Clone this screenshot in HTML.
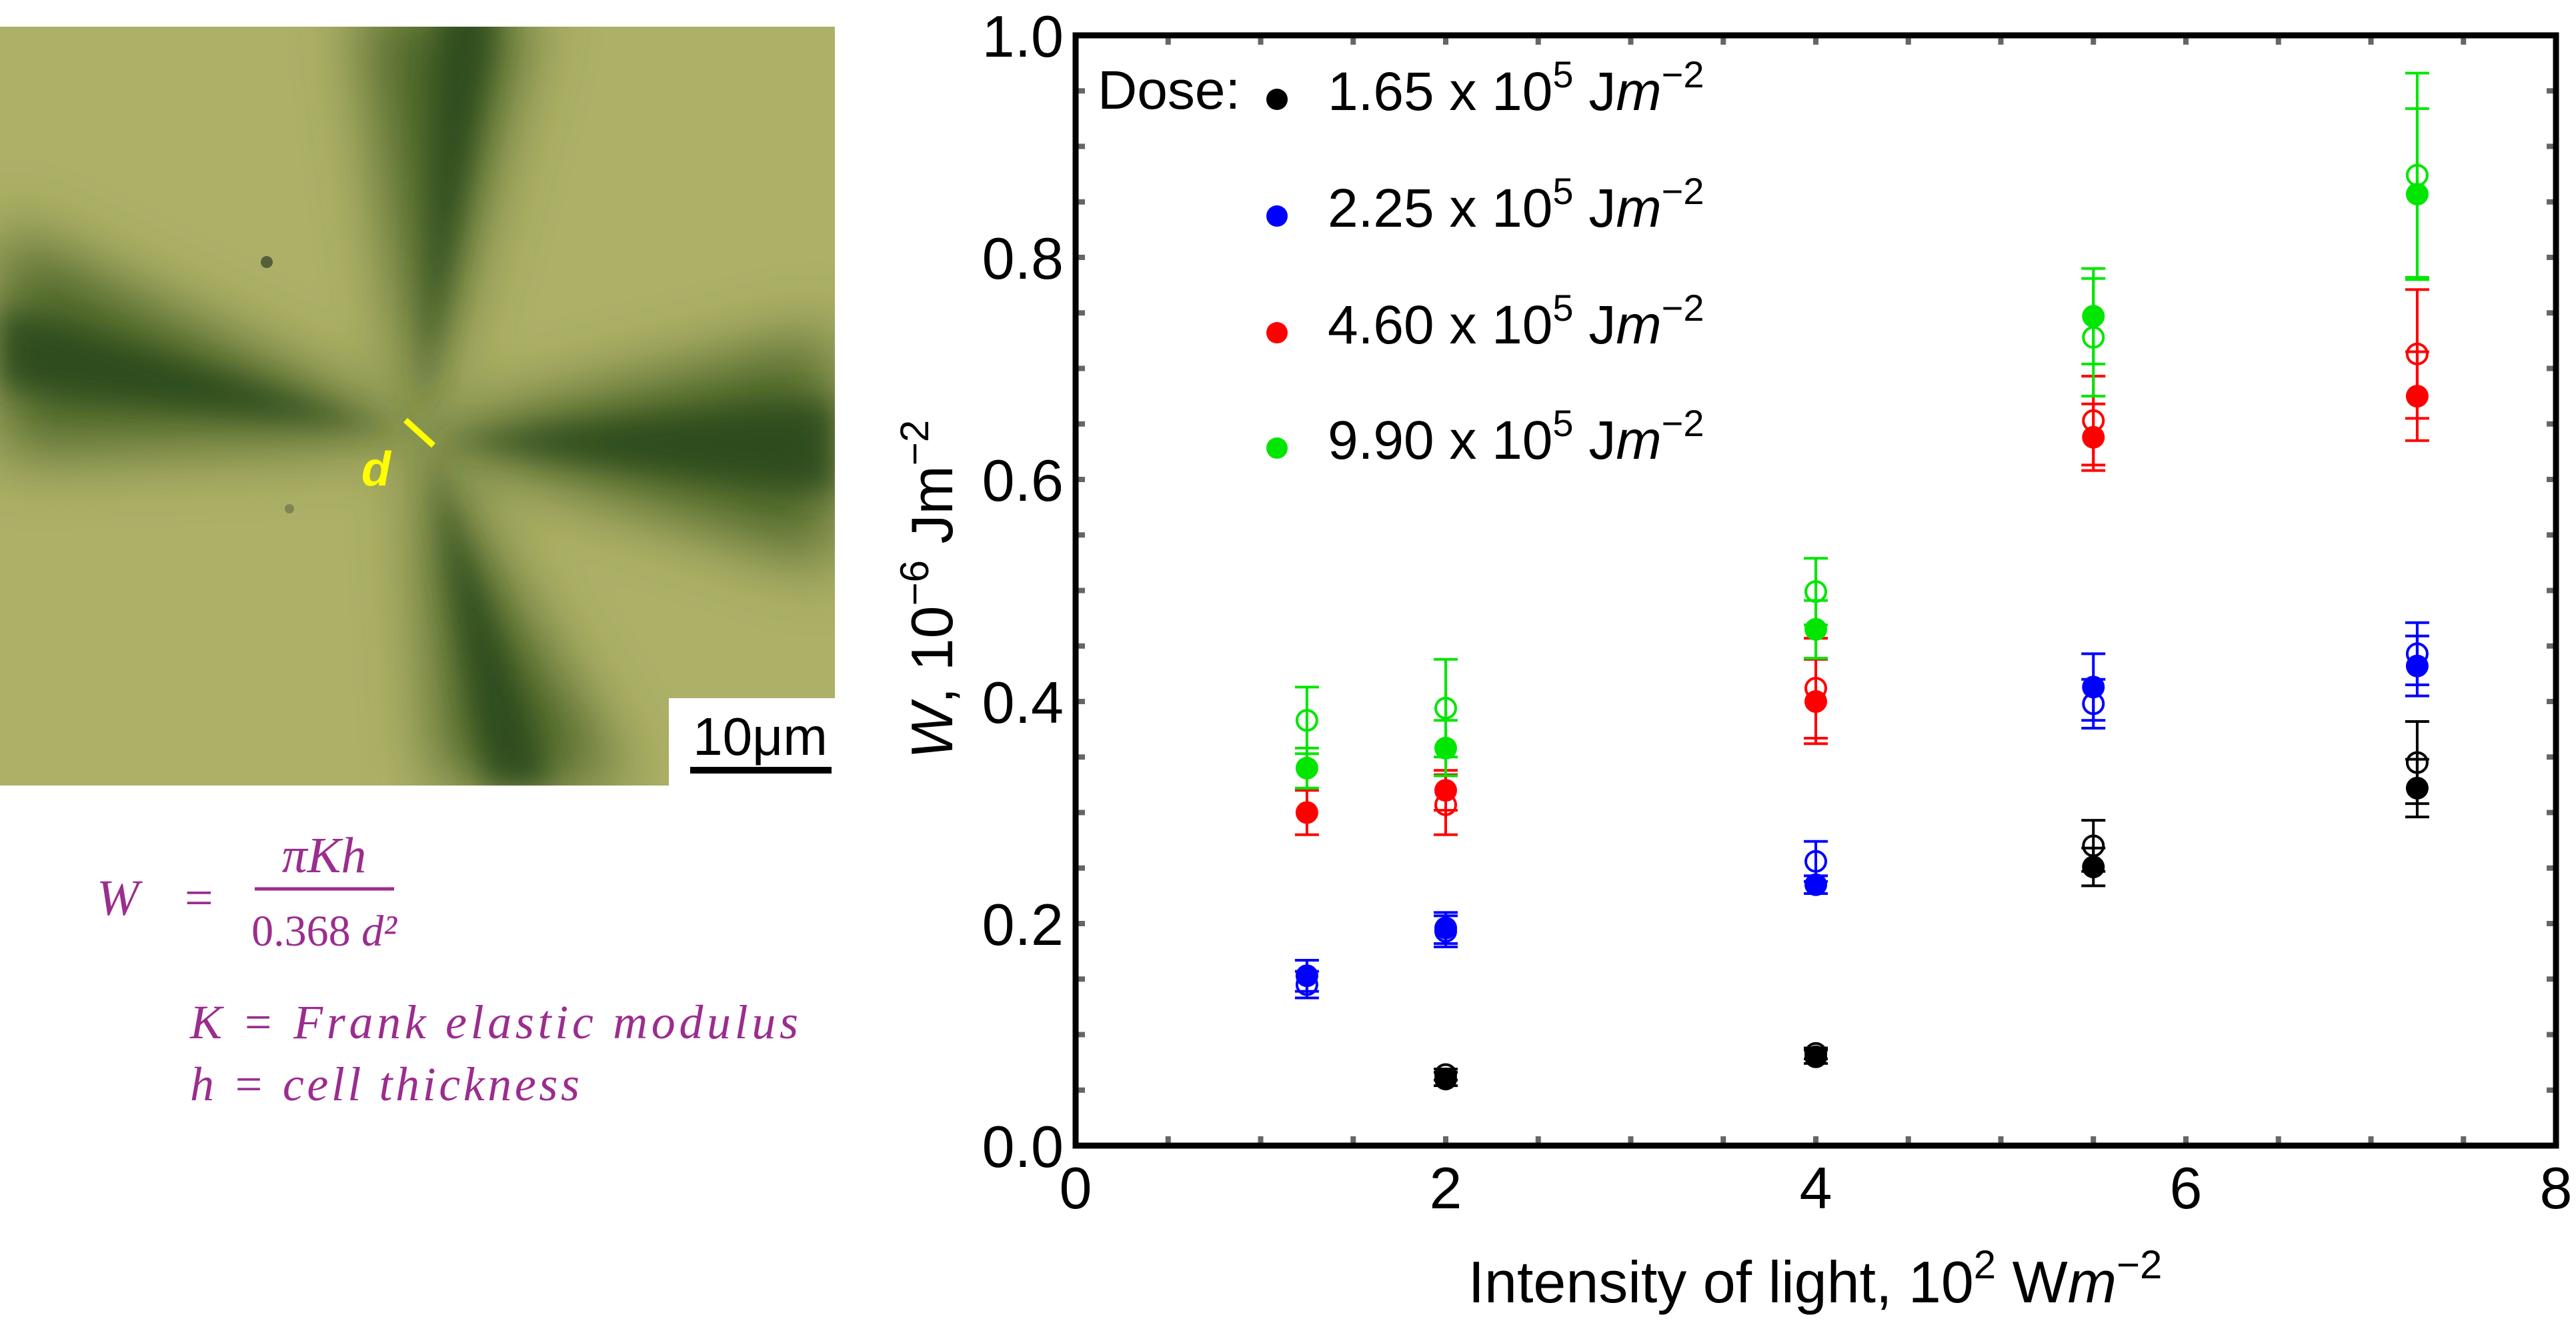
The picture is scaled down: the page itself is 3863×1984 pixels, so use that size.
<!DOCTYPE html>
<html><head><meta charset="utf-8"><style>
html,body{margin:0;padding:0;background:#fff;}
svg{display:block;}
text{font-family:"Liberation Sans",sans-serif;}
.math{font-family:"Liberation Serif",serif;font-style:italic;fill:#9b2d8e;}
</style></head><body>
<svg id="fig" width="3863" height="1984" viewBox="0 0 3863 1984" xmlns="http://www.w3.org/2000/svg">
<defs>
<filter id="blur" x="-20%" y="-20%" width="140%" height="140%"><feGaussianBlur stdDeviation="50"/></filter>
<filter id="blur2" x="-20%" y="-20%" width="140%" height="140%"><feGaussianBlur stdDeviation="22"/></filter>
<clipPath id="photoClip"><rect x="0" y="40" width="1252" height="1138"/></clipPath>
</defs>
<g clip-path="url(#photoClip)">
<rect x="0" y="40" width="1252" height="1138" fill="#adb067"/>
<g filter="url(#blur)" fill="#4a6326">
<polygon points="628,653 540,0 800,0"/>
<polygon points="628,653 660,1178 940,1178"/>
<polygon points="628,653 0,340 0,680"/>
<polygon points="628,653 1252,500 1252,850"/>
</g>
<g filter="url(#blur2)" fill="#2c4a1a" opacity="0.9">
<polygon points="628,653 660,0 750,0"/>
<polygon points="640,660 730,1178 830,1178"/>
<polygon points="620,650 0,460 0,580"/>
<polygon points="640,660 1252,600 1252,740"/>
</g>
<circle cx="400" cy="393" r="9" fill="#55603a"/>
<circle cx="434" cy="763" r="7" fill="#7f8452"/>
<line x1="608" y1="630" x2="650" y2="668" stroke="#ffff00" stroke-width="9"/>
<text x="542" y="728" font-family="Liberation Serif,serif" font-style="italic" font-weight="bold" font-size="72" fill="#ffff00">d</text>
<rect x="1003" y="1047" width="249" height="131" fill="#fff"/>
<text x="1140" y="1132" text-anchor="middle" font-family="Liberation Serif,serif" font-size="80" fill="#000">10μm</text>
<rect x="1035" y="1150" width="212" height="10" fill="#000"/>
</g>
<g>
<text class="math" x="145" y="1372" font-size="76">W</text>
<text class="math" x="272" y="1372" font-size="76" font-style="normal">=</text>
<text class="math" x="486" y="1308" font-size="76" text-anchor="middle">πKh</text>
<line x1="382" y1="1333" x2="591" y2="1333" stroke="#9b2d8e" stroke-width="5"/>
<text class="math" x="486" y="1418" font-size="66" text-anchor="middle"><tspan font-style="normal">0.368 </tspan>d²</text>
</g>
<text class="math" x="285" y="1557" font-size="72" textLength="912" lengthAdjust="spacing">K = Frank elastic  modulus</text>
<text class="math" x="285" y="1650" font-size="72" textLength="584" lengthAdjust="spacing">h = cell thickness</text>
<g id="chart"></g>
</svg>
<script>
const xTickVals = [0, 2, 4, 6, 8];
const yTickVals = [0.0, 0.2, 0.4, 0.6, 0.8, 1.0];
const yTickLabels = ["0.0", "0.2", "0.4", "0.6", "0.8", "1.0"];
const intensities = [1.25, 2, 4, 5.5, 7.25];
const blackFilled = [null, 0.060, 0.080, 0.251, 0.322];
const blackFilledErr = [null, 0.006, 0.006, 0.017, 0.026];
const blackOpen = [null, 0.064, 0.083, 0.270, 0.345];
const blackOpenErr = [null, 0.005, 0.005, 0.023, 0.037];
const blueFilled = [0.153, 0.196, 0.235, 0.413, 0.432];
const blueFilledErr = [0.014, 0.014, 0.008, 0.030, 0.027];
const blueOpen = [0.145, 0.193, 0.256, 0.398, 0.443];
const blueOpenErr = [0.012, 0.014, 0.018, 0.022, 0.028];
const redFilled = [0.300, 0.320, 0.400, 0.638, 0.675];
const redFilledErr = [0.020, 0.018, 0.038, 0.030, 0.040];
const redOpen = [null, 0.307, 0.412, 0.653, 0.713];
const redOpenErr = [null, 0.027, 0.045, 0.040, 0.058];
const greenFilled = [0.340, 0.358, 0.465, 0.747, 0.857];
const greenFilledErr = [0.018, 0.025, 0.026, 0.043, 0.077];
const greenOpen = [0.383, 0.394, 0.499, 0.728, 0.874];
const greenOpenErr = [0.030, 0.044, 0.030, 0.053, 0.092];
const legendLabels = ["1.65 x 10", "2.25 x 10", "4.60 x 10", "9.90 x 10"];
const seriesColors = ["#000000", "#0000ff", "#ff0000", "#00e600"];

const L = 1613, R = 3833, T = 53, B = 1718;
const xMin = 0, xMax = 8, yMin = 0, yMax = 1;
function sx(v){ return L + (v - xMin) / (xMax - xMin) * (R - L); }
function sy(v){ return B - (v - yMin) / (yMax - yMin) * (B - T); }
const NS = "http://www.w3.org/2000/svg";
const chart = document.getElementById("chart");
function mk(tag, attrs, parent){
  const e = document.createElementNS(NS, tag);
  for (const k in attrs) e.setAttribute(k, attrs[k]);
  (parent || chart).appendChild(e);
  return e;
}

for (let i = 0; i <= 16; i++) {
  const v = i * 0.5, x = sx(v);
  const t1 = mk("line", {x1: x, y1: B, x2: x, y2: B - 14, stroke: "#666", "stroke-width": 8});
  
  
  const t2 = mk("line", {x1: x, y1: T, x2: x, y2: T + 14, stroke: "#666", "stroke-width": 8});
  
  
}
for (let i = 0; i <= 20; i++) {
  const v = i * 0.05, y = sy(v);
  const t1 = mk("line", {x1: L, y1: y, x2: L + 14, y2: y, stroke: "#666", "stroke-width": 8});
  
  
  const t2 = mk("line", {x1: R, y1: y, x2: R - 14, y2: y, stroke: "#666", "stroke-width": 8});
  
  
}
const frame = mk("rect", {x: L, y: T, width: R - L, height: B - T, fill: "none", stroke: "#000", "stroke-width": 9});



xTickVals.forEach(v => {
  const t = mk("text", {x: sx(v), y: 1812, "text-anchor": "middle", "font-size": 88});
  t.textContent = String(v);
  
  
});
yTickVals.forEach((v, i) => {
  const t = mk("text", {x: 1595, y: sy(v) + 32, "text-anchor": "end", "font-size": 88});
  t.textContent = yTickLabels[i];
  
  
});

const xt = mk("text", {x: 2722, y: 1953, "text-anchor": "middle", "font-size": 88});
xt.innerHTML = 'Intensity of light, 10<tspan dy="-36" font-size="60">2</tspan><tspan dy="36"> W</tspan><tspan font-style="italic">m</tspan><tspan dy="-36" font-size="60">−2</tspan>';


const yt = mk("text", {x: 0, y: 0, "text-anchor": "middle", "font-size": 88, transform: "translate(1428,884) rotate(-90)"});
yt.innerHTML = '<tspan font-style="italic">W</tspan>, 10<tspan dy="-36" font-size="60">−6</tspan><tspan dy="36"> Jm</tspan><tspan dy="-36" font-size="60">−2</tspan>';



const series = [
  [blackOpen, blackOpenErr, blackFilled, blackFilledErr],
  [blueOpen, blueOpenErr, blueFilled, blueFilledErr],
  [redOpen, redOpenErr, redFilled, redFilledErr],
  [greenOpen, greenOpenErr, greenFilled, greenFilledErr]
];
const cap = 18, rad = 17;
series.forEach((s, si) => {
  const col = seriesColors[si];
  [[s[0], s[1], false], [s[2], s[3], true]].forEach(([vals, errs, filled]) => {
    vals.forEach((v, i) => {
      if (v === null) return;
      const x = sx(intensities[i]);
      const y1 = sy(v + errs[i]), y2 = sy(v - errs[i]);
      const eb = mk("path", {d: `M${x},${y1}V${y2}M${x-cap},${y1}H${x+cap}M${x-cap},${y2}H${x+cap}`, stroke: col, "stroke-width": 4, fill: "none"});
      
      
      const c = mk("circle", {cx: x, cy: sy(v), r: filled ? rad : rad - 2, fill: filled ? col : "none", stroke: col, "stroke-width": filled ? 0 : 4});
      
      
    });
  });
});

const dose = mk("text", {x: 1646, y: 163, "font-size": 82});
dose.textContent = "Dose:";


const legY = [139, 314, 489, 662];
legendLabels.forEach((lab, i) => {
  const d = mk("circle", {cx: 1915, cy: legY[i] + 10, r: 16, fill: seriesColors[i]});
  
  
  const t = mk("text", {x: 1991, y: legY[i] + 26, "font-size": 82});
  t.innerHTML = lab + '<tspan dy="-34" font-size="56">5</tspan><tspan dy="34"> J</tspan><tspan font-style="italic">m</tspan><tspan dy="-34" font-size="56">−2</tspan>';
  
  
});
</script>
</body></html>
